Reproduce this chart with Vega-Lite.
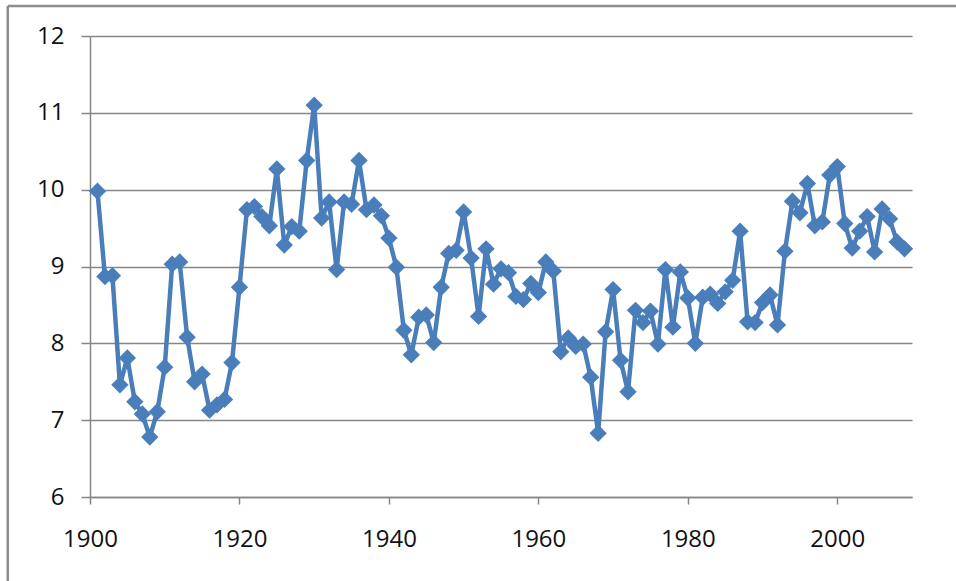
{
  "$schema": "https://vega.github.io/schema/vega-lite/v6.json",
  "autosize": {"type": "none"},
  "width": 822,
  "height": 461,
  "padding": {"left": 90, "top": 36, "right": 44, "bottom": 84},
  "background": "white",
  "config": {
    "view": {"stroke": null},
    "font": "Open Sans"
  },
  "layer": [
    {
      "data": {"values": [{"frame": "left"}]},
      "mark": {"type": "rule", "color": "#8c8c8c", "strokeWidth": 2.5, "clip": false},
      "encoding": {
        "x": {"datum": 1889, "type": "quantitative", "scale": {"domain": [1900, 2010], "nice": false, "zero": false}},
        "y": {"datum": 12.39, "type": "quantitative", "scale": {"domain": [6, 12], "nice": false, "zero": false}},
        "y2": {"datum": 4.8}
      }
    },
    {
      "data": {"values": [{"frame": "top"}]},
      "mark": {"type": "rule", "color": "#8c8c8c", "strokeWidth": 2.5, "clip": false},
      "encoding": {
        "x": {"datum": 1889, "type": "quantitative"},
        "x2": {"datum": 2020},
        "y": {"datum": 12.39, "type": "quantitative"}
      }
    },
    {
      "data": {
        "values": [
          {"year": 1901, "value": 9.98}, {"year": 1902, "value": 8.87}, {"year": 1903, "value": 8.88},
          {"year": 1904, "value": 7.46}, {"year": 1905, "value": 7.81}, {"year": 1906, "value": 7.24},
          {"year": 1907, "value": 7.08}, {"year": 1908, "value": 6.78}, {"year": 1909, "value": 7.11},
          {"year": 1910, "value": 7.69}, {"year": 1911, "value": 9.03}, {"year": 1912, "value": 9.06},
          {"year": 1913, "value": 8.08}, {"year": 1914, "value": 7.5}, {"year": 1915, "value": 7.6},
          {"year": 1916, "value": 7.13}, {"year": 1917, "value": 7.2}, {"year": 1918, "value": 7.27},
          {"year": 1919, "value": 7.75}, {"year": 1920, "value": 8.73}, {"year": 1921, "value": 9.74},
          {"year": 1922, "value": 9.78}, {"year": 1923, "value": 9.65}, {"year": 1924, "value": 9.53},
          {"year": 1925, "value": 10.27}, {"year": 1926, "value": 9.28}, {"year": 1927, "value": 9.52},
          {"year": 1928, "value": 9.46}, {"year": 1929, "value": 10.38}, {"year": 1930, "value": 11.1},
          {"year": 1931, "value": 9.63}, {"year": 1932, "value": 9.84}, {"year": 1933, "value": 8.96},
          {"year": 1934, "value": 9.84}, {"year": 1935, "value": 9.81}, {"year": 1936, "value": 10.38},
          {"year": 1937, "value": 9.74}, {"year": 1938, "value": 9.8}, {"year": 1939, "value": 9.66},
          {"year": 1940, "value": 9.37}, {"year": 1941, "value": 8.99}, {"year": 1942, "value": 8.17},
          {"year": 1943, "value": 7.85}, {"year": 1944, "value": 8.34}, {"year": 1945, "value": 8.37},
          {"year": 1946, "value": 8.01}, {"year": 1947, "value": 8.73}, {"year": 1948, "value": 9.17},
          {"year": 1949, "value": 9.21}, {"year": 1950, "value": 9.71}, {"year": 1951, "value": 9.11},
          {"year": 1952, "value": 8.35}, {"year": 1953, "value": 9.23}, {"year": 1954, "value": 8.77},
          {"year": 1955, "value": 8.97}, {"year": 1956, "value": 8.92}, {"year": 1957, "value": 8.61},
          {"year": 1958, "value": 8.57}, {"year": 1959, "value": 8.78}, {"year": 1960, "value": 8.66},
          {"year": 1961, "value": 9.06}, {"year": 1962, "value": 8.94}, {"year": 1963, "value": 7.89},
          {"year": 1964, "value": 8.07}, {"year": 1965, "value": 7.96}, {"year": 1966, "value": 7.99},
          {"year": 1967, "value": 7.56}, {"year": 1968, "value": 6.83}, {"year": 1969, "value": 8.15},
          {"year": 1970, "value": 8.7}, {"year": 1971, "value": 7.78}, {"year": 1972, "value": 7.37},
          {"year": 1973, "value": 8.43}, {"year": 1974, "value": 8.27}, {"year": 1975, "value": 8.42},
          {"year": 1976, "value": 7.99}, {"year": 1977, "value": 8.96}, {"year": 1978, "value": 8.21},
          {"year": 1979, "value": 8.93}, {"year": 1980, "value": 8.59}, {"year": 1981, "value": 8.0},
          {"year": 1982, "value": 8.6}, {"year": 1983, "value": 8.64}, {"year": 1984, "value": 8.52},
          {"year": 1985, "value": 8.67}, {"year": 1986, "value": 8.82}, {"year": 1987, "value": 9.46},
          {"year": 1988, "value": 8.28}, {"year": 1989, "value": 8.27}, {"year": 1990, "value": 8.53},
          {"year": 1991, "value": 8.63}, {"year": 1992, "value": 8.24}, {"year": 1993, "value": 9.2},
          {"year": 1994, "value": 9.85}, {"year": 1995, "value": 9.7}, {"year": 1996, "value": 10.08},
          {"year": 1997, "value": 9.53}, {"year": 1998, "value": 9.58}, {"year": 1999, "value": 10.19},
          {"year": 2000, "value": 10.3}, {"year": 2001, "value": 9.56}, {"year": 2002, "value": 9.24},
          {"year": 2003, "value": 9.46}, {"year": 2004, "value": 9.65}, {"year": 2005, "value": 9.19},
          {"year": 2006, "value": 9.75}, {"year": 2007, "value": 9.62}, {"year": 2008, "value": 9.32},
          {"year": 2009, "value": 9.23}
        ]
      },
      "encoding": {
        "x": {
          "field": "year", "type": "quantitative",
          "axis": {
            "title": null, "values": [1900, 1920, 1940, 1960, 1980, 2000],
            "format": "d", "grid": false, "domainColor": "#868686", "domainWidth": 1.5,
            "tickColor": "#868686", "tickSize": 7, "tickWidth": 1.5,
            "labelFontSize": 24, "labelColor": "#111", "labelPadding": 23, "labelFlush": false
          }
        },
        "y": {
          "field": "value", "type": "quantitative",
          "axis": {
            "title": null, "values": [6, 7, 8, 9, 10, 11, 12], "format": "d",
            "grid": true, "gridColor": "#868686", "gridWidth": 1.5,
            "domainColor": "#868686", "domainWidth": 1.5,
            "tickColor": "#868686", "tickSize": 9, "tickWidth": 1.5,
            "labelFontSize": 24, "labelColor": "#111", "labelPadding": 17
          }
        }
      },
      "layer": [
        {
          "mark": {"type": "line", "color": "#4a7ebb", "strokeWidth": 4.5, "strokeJoin": "round"}
        },
        {
          "mark": {"type": "point", "shape": "diamond", "filled": true, "opacity": 1, "color": "#4a7ebb", "size": 300}
        }
      ]
    }
  ]
}
